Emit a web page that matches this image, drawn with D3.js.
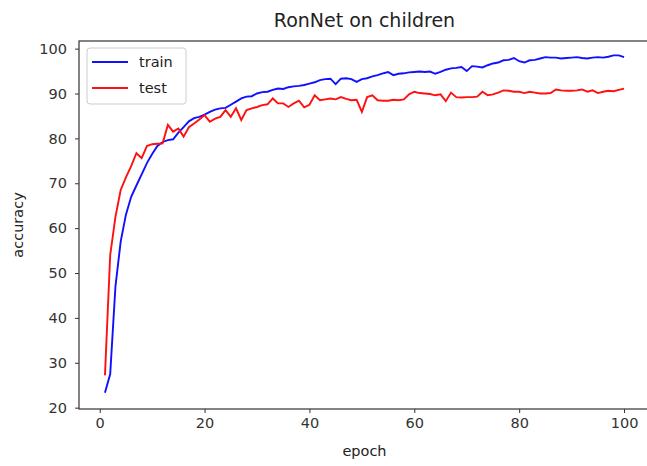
<!DOCTYPE html>
<html>
<head>
<meta charset="utf-8">
<script src="https://cdn.jsdelivr.net/npm/d3@7"></script>
<style>
  body { margin: 0; background: #fff; }
  svg { display: block; font-family: "DejaVu Sans", sans-serif; }
</style>
</head>
<body>
<svg id="chart" width="647" height="466"></svg>
<script>
// accuracy per epoch
var epochs = d3.range(1, 101);
var trainAcc = [
  23.3, 27.5, 47.0, 57.0, 63.0, 67.0, 69.5, 72.0, 74.5, 76.5,
  78.3, 79.2, 79.6, 79.8, 81.3, 82.5, 83.8, 84.5, 84.8, 85.3,
  85.9, 86.4, 86.7, 86.8, 87.5, 88.2, 88.9, 89.3, 89.4, 90.0,
  90.3, 90.4, 90.8, 91.1, 91.0, 91.4, 91.6, 91.7, 91.9, 92.2,
  92.5, 93.0, 93.2, 93.3, 92.1, 93.3, 93.4, 93.2, 92.6, 93.2,
  93.4, 93.8, 94.1, 94.5, 94.8, 94.1, 94.4, 94.5, 94.7, 94.8,
  94.9, 94.8, 94.9, 94.4, 94.8, 95.3, 95.6, 95.7, 95.9, 95.0,
  96.1, 96.0, 95.8, 96.3, 96.7, 96.9, 97.4, 97.5, 97.9, 97.2,
  96.9, 97.4, 97.5, 97.8, 98.1, 98.0, 98.0, 97.8, 97.9, 98.0,
  98.1, 97.9, 97.8, 98.0, 98.1, 98.0, 98.2, 98.5, 98.5, 98.1
];
var testAcc = [
  27.2, 54.0, 62.5, 68.5, 71.3, 73.8, 76.7, 75.6, 78.3, 78.7,
  78.8, 78.9, 83.0, 81.5, 82.2, 80.4, 82.5, 83.3, 84.2, 85.2,
  83.7, 84.4, 84.8, 86.3, 84.8, 86.7, 84.1, 86.3, 86.7, 87.0,
  87.4, 87.6, 88.9, 87.8, 87.8, 87.0, 87.8, 88.4, 86.9, 87.5,
  89.6, 88.5, 88.7, 88.9, 88.7, 89.2, 88.8, 88.5, 88.6, 85.9,
  89.2, 89.6, 88.5, 88.4, 88.4, 88.6, 88.5, 88.7, 89.8, 90.4,
  90.1, 90.0, 89.9, 89.6, 89.8, 88.3, 90.2, 89.2, 89.1, 89.2,
  89.2, 89.3, 90.4, 89.6, 89.8, 90.2, 90.7, 90.6, 90.4, 90.4,
  90.1, 90.4, 90.2, 90.0, 90.0, 90.1, 90.9, 90.7, 90.6, 90.6,
  90.7, 90.9, 90.4, 90.7, 90.1, 90.4, 90.6, 90.5, 90.8, 91.1
];
var xTicks = [0, 20, 40, 60, 80, 100];
var yTicks = [20, 30, 40, 50, 60, 70, 80, 90, 100];

var svg = d3.select("#chart");
var pLeft = 79, pRight = 650, pTop = 41, pBottom = 409;

var x = d3.scaleLinear().domain([-3.95, 104.95]).range([pLeft, pRight]);
var y = d3.scaleLinear().domain([19.7, 101.7]).range([pBottom, pTop]);

// axes
var xAxis = svg.append("g")
    .attr("transform", "translate(0," + pBottom + ")")
    .call(d3.axisBottom(x).tickValues(xTicks).tickSize(4).tickPadding(5).tickSizeOuter(0));
var yAxis = svg.append("g")
    .attr("transform", "translate(" + pLeft + ",0)")
    .call(d3.axisLeft(y).tickValues(yTicks).tickSize(4).tickPadding(8).tickSizeOuter(0));

[xAxis, yAxis].forEach(function(g){
    g.select(".domain").remove();
    g.selectAll("line").attr("stroke", "#333");
    g.selectAll("text").attr("fill", "#333").style("font-size", "14.5px").style("font-family", "DejaVu Sans");
});

// spines (right one falls just outside the picture)
svg.append("rect")
    .attr("x", pLeft).attr("y", pTop)
    .attr("width", pRight - pLeft).attr("height", pBottom - pTop)
    .attr("fill", "none").attr("stroke", "#333").attr("stroke-width", 1.2);

var line = d3.line()
    .x(function(d, i){ return x(epochs[i]); })
    .y(function(d){ return y(d); });

svg.append("path").datum(trainAcc)
    .attr("d", line).attr("fill", "none")
    .attr("stroke", "#1010ff").attr("stroke-width", 1.9);
svg.append("path").datum(testAcc)
    .attr("d", line).attr("fill", "none")
    .attr("stroke", "#ff1010").attr("stroke-width", 1.9);

// title and labels
svg.append("text")
    .attr("x", (pLeft + pRight) / 2).attr("y", 27)
    .attr("text-anchor", "middle")
    .attr("fill", "#222")
    .style("font-size", "19px")
    .text("RonNet on children");
svg.append("text")
    .attr("x", (pLeft + pRight) / 2).attr("y", 456)
    .attr("text-anchor", "middle")
    .attr("fill", "#222")
    .style("font-size", "14.5px")
    .text("epoch");
svg.append("text")
    .attr("transform", "translate(23," + (pTop + pBottom) / 2 + ") rotate(-90)")
    .attr("text-anchor", "middle")
    .attr("fill", "#222")
    .style("font-size", "14.5px")
    .text("accuracy");

// legend
var legend = svg.append("g");
legend.append("rect")
    .attr("x", 87).attr("y", 48).attr("width", 99).attr("height", 56)
    .attr("rx", 3)
    .attr("fill", "#fff").attr("fill-opacity", 0.8)
    .attr("stroke", "#ccc");
var items = [{name: "train", color: "#1010ff"}, {name: "test", color: "#ff1010"}];
items.forEach(function(d, i){
    var yy = 62 + i * 26;
    legend.append("line")
        .attr("x1", 92).attr("x2", 128).attr("y1", yy).attr("y2", yy)
        .attr("stroke", d.color).attr("stroke-width", 1.9);
    legend.append("text")
        .attr("x", 139).attr("y", yy + 5)
        .attr("fill", "#222")
        .style("font-size", "14.5px")
        .text(d.name);
});
</script>
</body>
</html>
